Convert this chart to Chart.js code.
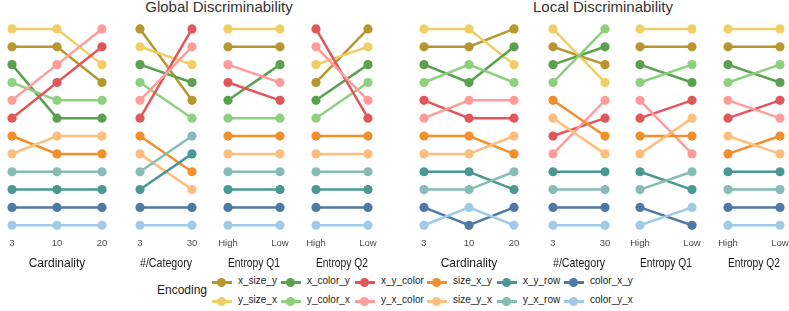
<!DOCTYPE html>
<html>
<head>
<meta charset="utf-8">
<script src="https://cdn.jsdelivr.net/npm/chart.js@4/dist/chart.umd.min.js"></script>
<style>
  html, body { margin:0; padding:0; background:#fff; }
  body { width:789px; height:311px; position:relative; overflow:hidden; font-family:"Liberation Sans", Arial, sans-serif; }
  .panel { position:absolute; top:0; }
  .title { position:absolute; top:-2px; font-size:15px; color:#333; white-space:nowrap; transform:translateX(-50%); }
  .legend-title { position:absolute; left:157px; top:283px; font-size:12px; color:#222; }
  .item { position:absolute; font-size:10px; color:#222; white-space:nowrap; }
  .sym { position:absolute; left:-26px; top:1px; width:20px; height:12px; }
  .sym .ln { position:absolute; left:0; top:5px; width:20px; height:2.5px; }
  .sym .pt { position:absolute; left:5px; top:1.5px; width:9px; height:9px; border-radius:50%; }
</style>
</head>
<body>
<div class="title" style="left:219px">Global Discriminability</div>
<div class="title" style="left:603px">Local Discriminability</div>
<div class="legend-title">Encoding</div>
<div id="legend"></div>

<script>
// encodings in legend order, with their colours
const encodings = ["x_size_y","y_size_x","x_color_y","y_color_x","x_y_color","y_x_color",
                   "size_x_y","size_y_x","x_y_row","y_x_row","color_x_y","color_y_x"];
const colors = ["#B8962E","#F1CE63","#59A14F","#8CD17D","#E15759","#FF9D9A",
                "#F28E2B","#FFBE7D","#499894","#86BCB6","#4E79A7","#A0CBE8"];

// x levels
const cardLevels = ["3","10","20"];
const catLevels = ["3","30"];
const entropyLevels = ["High","Low"];

// ranks (1 = top), one array per level, in encoding order
const globalCardinality = [
  [2,1,3,4,6,5,7,8,10,9,11,12],
  [2,1,6,5,4,3,8,7,10,9,11,12],
  [4,3,6,5,2,1,8,7,10,9,11,12]
];
const globalCategory = [
  [1,2,3,4,6,5,7,8,10,9,11,12],
  [5,3,4,6,1,2,9,10,8,7,11,12]
];
const globalEntropyQ1 = [
  [2,1,5,6,4,3,7,8,10,9,11,12],
  [2,1,3,6,5,4,7,8,10,9,11,12]
];
const globalEntropyQ2 = [
  [4,3,5,6,1,2,7,8,10,9,11,12],
  [1,2,3,4,6,5,7,8,10,9,11,12]
];
const localCardinality = [
  [2,1,3,4,5,6,7,8,9,10,11,12],
  [2,1,4,3,6,5,7,8,9,10,12,11],
  [1,3,2,4,6,5,8,7,10,9,11,12]
];
const localCategory = [
  [2,1,3,4,7,8,5,6,9,10,11,12],
  [3,4,2,1,6,5,7,8,9,10,11,12]
];
const localEntropyQ1 = [
  [2,1,3,4,6,5,7,8,9,10,11,12],
  [2,1,4,3,5,8,7,6,10,9,12,11]
];
const localEntropyQ2 = [
  [2,1,3,4,6,5,8,7,9,10,11,12],
  [2,1,4,3,5,6,7,8,9,10,11,12]
];

const PAD = 13;

function makePanel(x0, x1, levels, ranks, title){
  const c = document.createElement("canvas");
  c.className = "panel";
  const w = x1 - x0 + 2*PAD;
  c.style.left = (x0 - PAD) + "px";
  c.style.width = w + "px";
  c.style.height = "271px";
  c.width = w; c.height = 271;
  document.body.appendChild(c);

  const datasets = encodings.map((e,i)=>({
    label: e,
    data: ranks.map(lv => lv[i]),
    borderColor: colors[i],
    backgroundColor: colors[i],
    pointBackgroundColor: colors[i],
    pointBorderWidth: 0,
    pointRadius: 4.6,
    borderWidth: 2.5,
    tension: 0,
    clip: false,
    order: 12 - i
  }));

  new Chart(c.getContext("2d"), {
    type: "line",
    data: { labels: levels, datasets },
    options: {
      responsive: false,
      animation: false,
      events: [],
      layout: { padding: { left: PAD, right: PAD, top: 20, bottom: 0 } },
      plugins: { legend: { display:false }, tooltip: { enabled:false } },
      scales: {
        x: {
          offset: false,
          grid: { display:false, drawTicks:false },
          border: { display:false },
          ticks: { color:"#4d4d4d", font:{ family:"Liberation Sans", size:9.5 }, padding:3, maxRotation:0, autoSkip:false },
          title: { display:true, text:title, color:"#1a1a1a", font:{ family:"Liberation Sans", size:12 }, padding:{ top:5, bottom:0 } }
        },
        y: {
          display: false,
          reverse: true,
          min: 0.5, max: 12.5
        }
      }
    }
  });
}

makePanel(12, 102, cardLevels, globalCardinality, "Cardinality");
makePanel(140, 192, catLevels, globalCategory, "#/Category");
makePanel(228, 280, entropyLevels, globalEntropyQ1, "Entropy Q1");
makePanel(316, 368, entropyLevels, globalEntropyQ2, "Entropy Q2");
makePanel(424, 514, cardLevels, localCardinality, "Cardinality");
makePanel(553, 605, catLevels, localCategory, "#/Category");
makePanel(640, 692, entropyLevels, localEntropyQ1, "Entropy Q1");
makePanel(728, 780, entropyLevels, localEntropyQ2, "Entropy Q2");

// legend: 6 columns x 2 rows
const legendX = [238, 307, 381, 453, 523, 590];
const legendY = [275, 294];
const lg = document.getElementById("legend");
encodings.forEach((e,i)=>{
  const col = Math.floor(i/2), row = i%2;
  const d = document.createElement("div");
  d.className = "item";
  d.style.left = legendX[col] + "px";
  d.style.top = legendY[row] + "px";
  d.innerHTML = `<span class="sym"><span class="ln" style="background:${colors[i]}"></span><span class="pt" style="background:${colors[i]}"></span></span>${e}`;
  lg.appendChild(d);
});
</script>
</body>
</html>
